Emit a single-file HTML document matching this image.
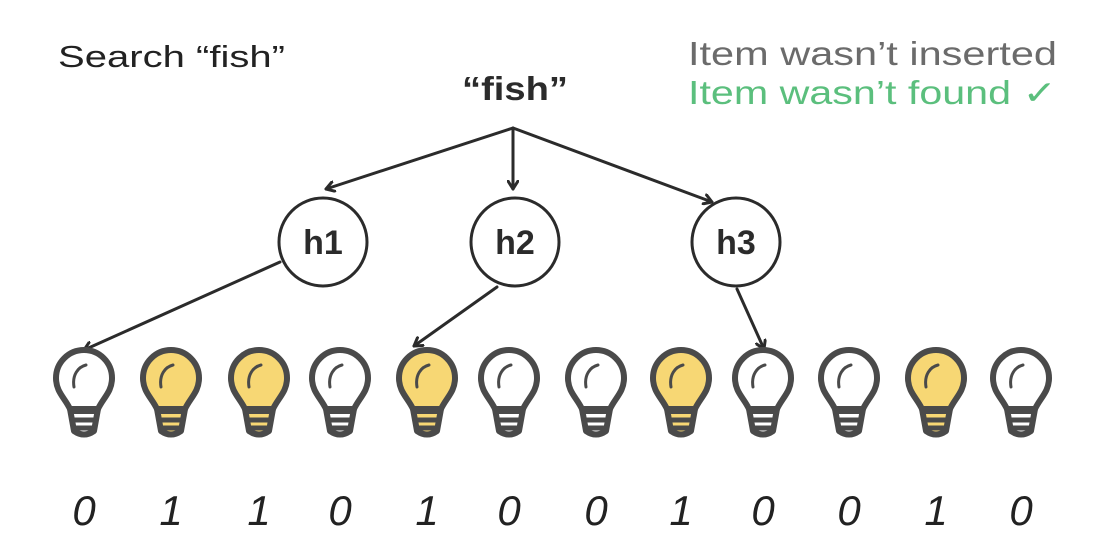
<!DOCTYPE html>
<html><head><meta charset="utf-8"><style>
html,body{margin:0;padding:0;background:#fff;}
svg{display:block;}
text{font-family:"Liberation Sans",sans-serif;}
</style></head><body>
<svg width="1100" height="554" viewBox="0 0 1100 554" xmlns="http://www.w3.org/2000/svg">
<defs>
<marker id="ar" markerWidth="12" markerHeight="12" refX="9" refY="6" orient="auto" markerUnits="userSpaceOnUse">
<path d="M1,1 L9,6 L1,11" fill="none" stroke="#2b2b2b" stroke-width="3" stroke-linecap="round" stroke-linejoin="round"/>
</marker>
<g id="bw">
<path d="M-14,60 C-19,49 -28,43 -28,29 A28 28 0 1 1 28 29 C28,43 19,49 14,60 Z" fill="#fff" stroke="#4a4a4a" stroke-width="6" stroke-linejoin="round"/>
<path d="M-14,60 L-10,82 Q0,89 10,82 L14,60" fill="#fff" stroke="#4a4a4a" stroke-width="6" stroke-linejoin="round"/>
<line x1="-16" y1="62" x2="16" y2="62" stroke="#4a4a4a" stroke-width="6"/>
<line x1="-12" y1="71" x2="12" y2="71" stroke="#4a4a4a" stroke-width="5"/>
<line x1="-10" y1="79" x2="10" y2="79" stroke="#4a4a4a" stroke-width="5"/>
<path d="M-10,38 C-12,26 -6,18 2,16" fill="none" stroke="#4a4a4a" stroke-width="3" stroke-linecap="round"/>
</g>
<g id="by">
<path d="M-14,60 C-19,49 -28,43 -28,29 A28 28 0 1 1 28 29 C28,43 19,49 14,60 Z" fill="#f7d774" stroke="#4a4a4a" stroke-width="6" stroke-linejoin="round"/>
<path d="M-14,60 L-10,82 Q0,89 10,82 L14,60" fill="#f7d774" stroke="#4a4a4a" stroke-width="6" stroke-linejoin="round"/>
<line x1="-16" y1="62" x2="16" y2="62" stroke="#4a4a4a" stroke-width="6"/>
<line x1="-12" y1="71" x2="12" y2="71" stroke="#4a4a4a" stroke-width="5"/>
<line x1="-10" y1="79" x2="10" y2="79" stroke="#4a4a4a" stroke-width="5"/>
<path d="M-10,38 C-12,26 -6,18 2,16" fill="none" stroke="#4a4a4a" stroke-width="3" stroke-linecap="round"/>
</g>
</defs>

<text x="58" y="67" font-size="31" fill="#222" textLength="227" lengthAdjust="spacingAndGlyphs">Search “fish”</text>
<text x="688" y="65" font-size="33" fill="#6b6b6b" textLength="369" lengthAdjust="spacingAndGlyphs">Item wasn’t inserted</text>
<text x="688" y="104" font-size="33" fill="#5bbf7d" textLength="369" lengthAdjust="spacingAndGlyphs">Item wasn’t found ✓</text>
<text x="462" y="100" font-size="33" font-weight="bold" fill="#2b2b2b" textLength="106" lengthAdjust="spacingAndGlyphs">“fish”</text>

<g stroke="#2b2b2b" stroke-width="3" fill="none" stroke-linecap="round">
<line x1="513" y1="128" x2="326" y2="189" marker-end="url(#ar)"/>
<line x1="513" y1="128" x2="513" y2="189" marker-end="url(#ar)"/>
<line x1="513" y1="128" x2="712" y2="202" marker-end="url(#ar)"/>
<line x1="280" y1="262" x2="84" y2="350" marker-end="url(#ar)"/>
<line x1="497" y1="287" x2="414" y2="346" marker-end="url(#ar)"/>
<line x1="737" y1="289" x2="764" y2="349" marker-end="url(#ar)"/>
<circle cx="323" cy="242" r="44"/>
<circle cx="515" cy="242" r="44"/>
<circle cx="736" cy="242" r="44"/>
</g>
<g font-size="34" font-weight="bold" fill="#2b2b2b" text-anchor="middle">
<text x="323" y="254">h1</text>
<text x="515" y="254">h2</text>
<text x="736" y="254">h3</text>
</g>

<use href="#bw" x="84" y="349"/>
<use href="#by" x="171" y="349"/>
<use href="#by" x="259" y="349"/>
<use href="#bw" x="340" y="349"/>
<use href="#by" x="427" y="349"/>
<use href="#bw" x="509" y="349"/>
<use href="#bw" x="596" y="349"/>
<use href="#by" x="681" y="349"/>
<use href="#bw" x="763" y="349"/>
<use href="#bw" x="849" y="349"/>
<use href="#by" x="936" y="349"/>
<use href="#bw" x="1021" y="349"/>

<g font-size="42" font-style="italic" fill="#222" text-anchor="middle">
<text x="84" y="525">0</text>
<text x="171" y="525">1</text>
<text x="259" y="525">1</text>
<text x="340" y="525">0</text>
<text x="427" y="525">1</text>
<text x="509" y="525">0</text>
<text x="596" y="525">0</text>
<text x="681" y="525">1</text>
<text x="763" y="525">0</text>
<text x="849" y="525">0</text>
<text x="936" y="525">1</text>
<text x="1021" y="525">0</text>
</g>
</svg>
</body></html>
